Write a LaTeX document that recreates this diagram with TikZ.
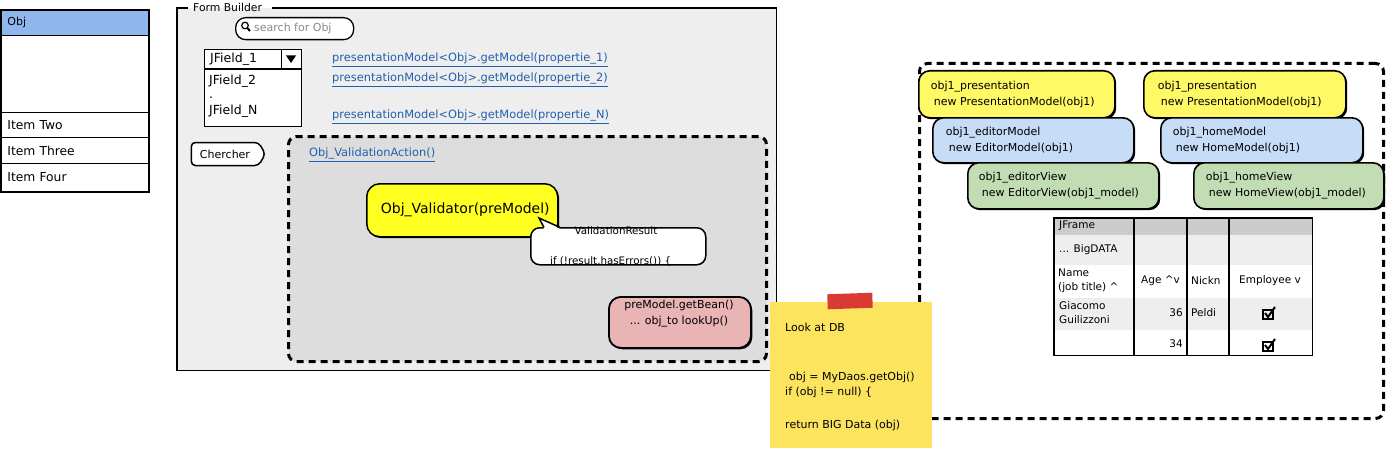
\documentclass[tikz,border=0pt]{standalone}
\usepackage{fontspec}
\setmainfont{DejaVu Sans}
\usetikzlibrary{shapes.symbols,shadows}
\definecolor{listblue}{HTML}{8FB7EE}
\definecolor{fbgray}{HTML}{EEEEEE}
\definecolor{vagray}{HTML}{DDDDDD}
\definecolor{linkblue}{HTML}{2060B0}
\definecolor{vyellow}{HTML}{FFFF22}
\definecolor{nyellow}{HTML}{FFF966}
\definecolor{nblue}{HTML}{C6DCF7}
\definecolor{ngreen}{HTML}{C2DCB3}
\definecolor{npink}{HTML}{E8B4B4}
\definecolor{stickyc}{HTML}{FDE45E}
\definecolor{tapec}{HTML}{D93A33}
\definecolor{thdr}{HTML}{CCCCCC}
\definecolor{trow}{HTML}{EEEEEE}
\definecolor{srchgray}{HTML}{888888}
\tikzset{
  base/.style={inner sep=0pt, font=\fontsize{11}{16}\selectfont},
  lbl/.style={base, anchor=west},
  link/.style={lbl, text=linkblue, font=\fontsize{11.4}{16}\selectfont},
  tlbl/.style={lbl, font=\fontsize{10.5}{14}\selectfont},
  jlbl/.style={lbl, font=\fontsize{12.5}{14}\selectfont},
  lrow/.style={draw, line width=0.9pt, anchor=north west, minimum width=147pt, text width=135pt,
    inner xsep=6pt, inner ysep=0pt, align=left, fill=white, font=\fontsize{12.3}{14}\selectfont},
  wbox/.style={draw, line width=1.2pt, fill=white, anchor=north west, inner sep=0pt},
  dashbox/.style={draw, line width=3pt, dash pattern=on 7pt off 5pt, rounded corners=8pt,
    anchor=north west, inner sep=0pt},
  skshadow/.style={drop shadow={shadow xshift=1.4pt, shadow yshift=-1.4pt, fill=black, opacity=1}},
  cnode/.style={draw, line width=1.6pt, rounded corners=11pt, anchor=north west, align=left,
    inner xsep=12pt, inner ysep=0pt, font=\fontsize{11}{16}\selectfont, skshadow},
}
\begin{document}
\begin{tikzpicture}[x=1pt,y=-1pt]
\useasboundingbox (0,0) rectangle (1386,452);

% ---------- left list ----------
\node[lrow, fill=listblue, minimum height=25pt, font=\fontsize{11}{14}\selectfont] (lhead) at (1,10) {Obj};
\node[lrow, minimum height=77pt] (lblank) at (1,35) {};
\node[lrow, minimum height=25pt] (litem2) at (1,112) {Item Two};
\node[lrow, minimum height=26pt] (litem3) at (1,137) {Item Three};
\node[lrow, minimum height=28pt] (litem4) at (1,163) {Item Four};
\draw[line width=1.5pt] (lhead.north west) rectangle (litem4.south east);

% ---------- form builder ----------
\node[fill=fbgray, minimum width=599pt, minimum height=362pt, anchor=north west, inner sep=0pt] (fb) at (177,8) {};
\draw[line width=1.6pt] (188,8) -| (fb.south west) -| (fb.north east) -- (272,8);
\node[lbl, font=\fontsize{10.8}{12}\selectfont] (fbt) at (193,7) {Form Builder};

\node[draw, line width=1.3pt, fill=white, rounded corners=10pt, minimum width=118pt, minimum height=22pt,
  anchor=north west, inner sep=0pt] (search) at (235,17) {};
\draw[line width=1.2pt] (245,25.5) circle (3.3pt);
\draw[line width=2pt] (247.3,28) -- (250,31);
\node[lbl, text=srchgray] (stext) at (254,28) {search for Obj};

\node[wbox, minimum width=77pt, minimum height=19pt] (jf1) at (204,49) {};
\node[wbox, minimum width=20pt, minimum height=19pt] (jbtn) at (281,49) {};
\fill (286,55.5) -- (296,55.5) -- (291,63) -- cycle;
\node[wbox, minimum width=97pt, minimum height=57pt] (jlist) at (204,69) {};
\node[jlbl] (tj1) at (210,59) {JField\_1};
\node[jlbl] (tj2) at (209,81) {JField\_2};
\node[jlbl] (tjd) at (209,98) {.};
\node[jlbl] (tjn) at (209,111) {JField\_N};

\node[link] (l1) at (332,60) {\underline{presentationModel<Obj>.getModel(propertie\_1)}};
\node[link] (l2) at (332,80) {\underline{presentationModel<Obj>.getModel(propertie\_2)}};
\node[link] (l3) at (332,117) {\underline{presentationModel<Obj>.getModel(propertie\_N)}};

\node[draw, line width=1.5pt, fill=white, signal, signal to=east, signal pointer angle=120,
  minimum width=74pt, minimum height=23pt, rounded corners=4pt, inner sep=0pt, base] (cher) at (225,154) {Chercher};

% ---------- validation container ----------
\node[dashbox, fill=vagray, minimum width=478pt, minimum height=225pt] (va) at (287,135) {};
\node[link] (lva) at (309,155) {\underline{Obj\_ValidationAction()}};

\node[draw, line width=1.5pt, fill=vyellow, rounded corners=13pt, minimum width=191pt, minimum height=53pt,
  anchor=north west, inner sep=0pt, font=\fontsize{14}{16}\selectfont, skshadow] (val) at (366,183) {\hspace*{6pt}Obj\_Validator(preModel)};

\node[draw, line width=1.5pt, fill=white, rounded corners=9pt, minimum width=175pt, minimum height=37pt,
  anchor=north west, inner sep=0pt] (cb) at (530,227) {};
\fill[white] (544,229) -- (539,218) -- (560,229) -- cycle;
\draw[line width=1.5pt] (544,227.4) -- (539,218) -- (560,227.4);
\node[base, font=\fontsize{10.3}{12}\selectfont] (cbt1) at (616,231) {ValidationResult};
\node[lbl, font=\fontsize{10.3}{12}\selectfont] (cbt2) at (550,261) {if (!result.hasErrors()) \{};

\node[draw, line width=1.8pt, fill=npink, rounded corners=12pt, minimum width=142pt, minimum height=51pt,
  anchor=north west, inner sep=0pt, skshadow] (bean) at (608,296) {};
\node[base, align=center] (beant) at (679,314) {preModel.getBean()\\... obj\_to lookUp()};

% ---------- right container ----------
\node[dashbox, fill=white, minimum width=464pt, minimum height=355pt] (rc) at (918,62) {};

\node[cnode, fill=nyellow, minimum width=196pt, minimum height=47pt, text width=172pt] (y1) at (918,70)
  {obj1\_presentation\\\hspace*{3pt}new PresentationModel(obj1)};
\node[cnode, fill=nyellow, minimum width=202pt, minimum height=47pt, text width=174pt, inner xsep=14pt] (y2) at (1143,70)
  {obj1\_presentation\\\hspace*{3pt}new PresentationModel(obj1)};
\node[cnode, fill=nblue, minimum width=201pt, minimum height=45pt, text width=175pt, inner xsep=13pt] (b1) at (932,117)
  {obj1\_editorModel\\\hspace*{3pt}new EditorModel(obj1)};
\node[cnode, fill=nblue, minimum width=202pt, minimum height=45pt, text width=178pt] (b2) at (1160,117)
  {obj1\_homeModel\\\hspace*{3pt}new HomeModel(obj1)};
\node[cnode, fill=ngreen, minimum width=191pt, minimum height=46pt, text width=169pt, inner xsep=11pt] (g1) at (967,162)
  {obj1\_editorView\\\hspace*{3pt}new EditorView(obj1\_model)};
\node[cnode, fill=ngreen, minimum width=190pt, minimum height=46pt, text width=166pt] (g2) at (1193,162)
  {obj1\_homeView\\\hspace*{3pt}new HomeView(obj1\_model)};

% ---------- table ----------
\node[fill=thdr, minimum width=258pt, minimum height=17pt, anchor=north west, inner sep=0pt] (th) at (1054,218) {};
\node[fill=trow, minimum width=258pt, minimum height=30pt, anchor=north west, inner sep=0pt] (tr1) at (1054,235) {};
\node[fill=white, minimum width=258pt, minimum height=33pt, anchor=north west, inner sep=0pt] (tr2) at (1054,265) {};
\node[fill=trow, minimum width=258pt, minimum height=32pt, anchor=north west, inner sep=0pt] (tr3) at (1054,298) {};
\node[fill=white, minimum width=258pt, minimum height=25pt, anchor=north west, inner sep=0pt] (tr4) at (1054,330) {};
\draw[line width=1.3pt] (1134,218) -- (1134,355) (1187,218) -- (1187,355) (1229,218) -- (1229,355);
\draw[line width=1.6pt] (th.north west) rectangle (tr4.south east);
\node[tlbl] (tt1) at (1059,226) {JFrame};
\node[tlbl] (tt2) at (1059,250) {... BigDATA};
\node[tlbl, align=left] (tt3) at (1058,281) {Name\\(job title) \textasciicircum};
\node[tlbl, anchor=east] (tt4) at (1180,281) {Age \textasciicircum v};
\node[tlbl] (tt5) at (1191,281) {Nickn};
\node[tlbl, anchor=center] (tt6) at (1270,281) {Employee v};
\node[tlbl, align=left] (tt7) at (1059,313) {Giacomo\\Guilizzoni};
\node[tlbl, anchor=east] (tt8) at (1183,313) {36};
\node[tlbl] (tt9) at (1191,313) {Peldi};
\node[tlbl, anchor=east] (tt10) at (1183,344) {34};
\foreach \cy/\nm in {314/ck1, 346/ck2} {
  \coordinate (\nm) at (1268,\cy);
  \draw[line width=1.6pt] (1263,\cy-4) rectangle (1273,\cy+5);
  \draw[line width=2pt] (1265,\cy-1) -- (1268,\cy+3) -- (1275,\cy-7);
}

% ---------- sticky note ----------
\node[fill=stickyc, minimum width=162pt, minimum height=146pt, anchor=north west, inner sep=0pt] (note) at (770,302) {};
\node[fill=tapec, minimum width=45pt, minimum height=15pt, inner sep=0pt, rotate=2] (tape) at (850,301) {};
\node[lbl] (n1) at (785,327) {Look at DB};
\node[lbl] (n2) at (789,377) {obj = MyDaos.getObj()};
\node[lbl] (n3) at (785,392) {if (obj != null) \{};
\node[lbl] (n4) at (785,425) {return BIG Data (obj)};
\end{tikzpicture}
\end{document}
